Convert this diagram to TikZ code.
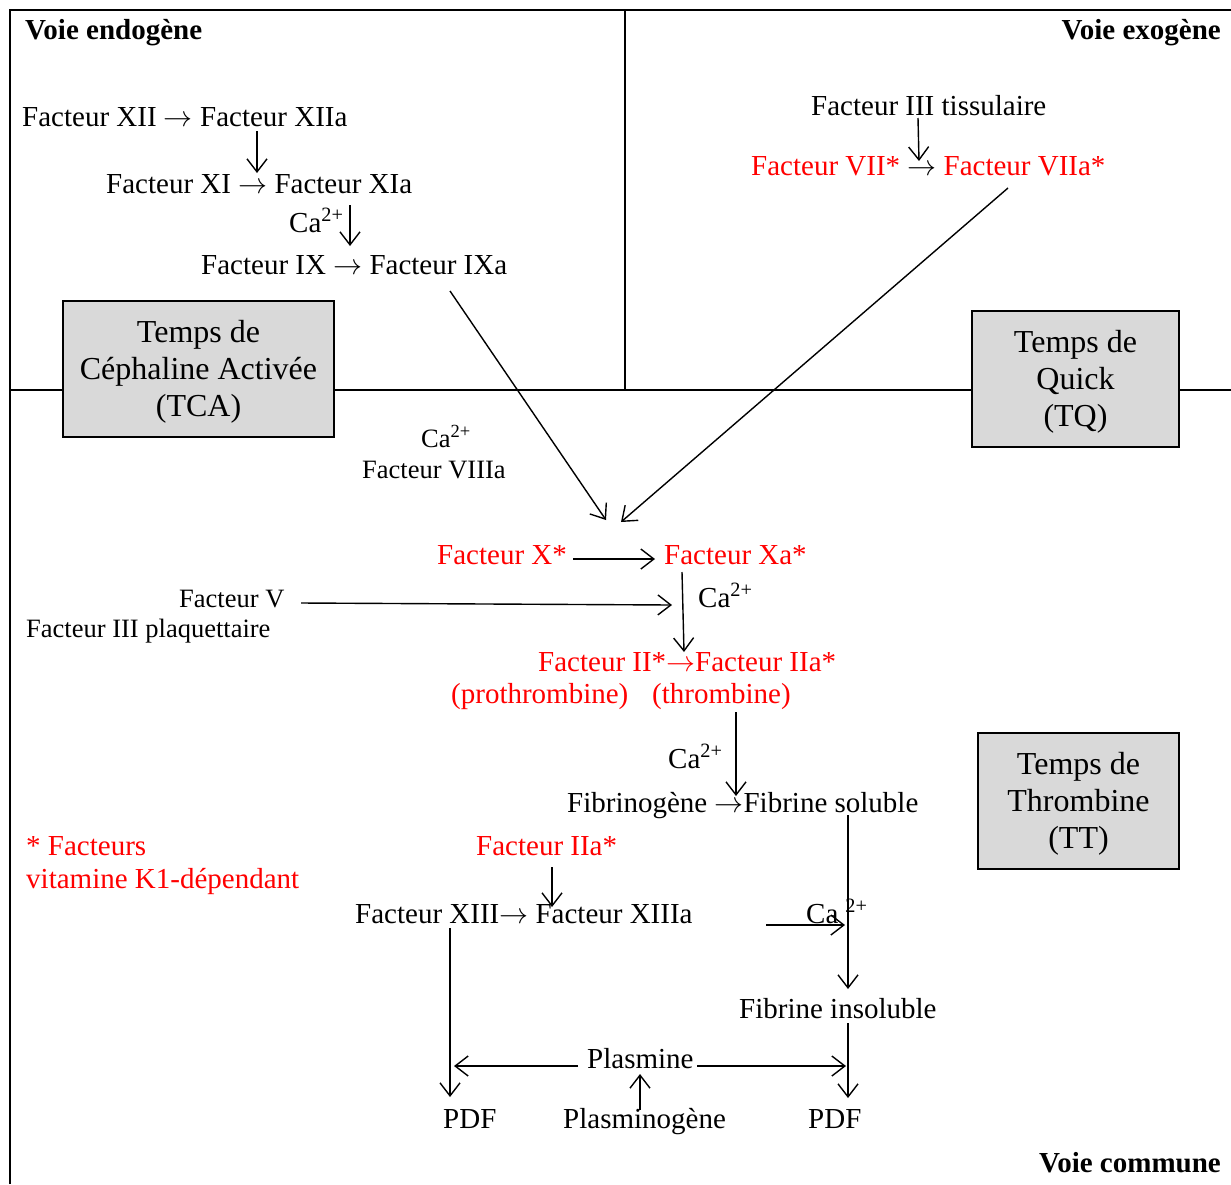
\RequirePackage{fix-cm}
\documentclass[tikz,border=0pt]{standalone}
\usepackage{fontspec}
\setmainfont{Liberation Serif}
\usetikzlibrary{arrows.meta}
\definecolor{boxgray}{HTML}{D9D9D9}
\definecolor{vkred}{HTML}{FF0000}
\newcommand\casup{Ca\textsuperscript{2+}}
\newcommand\rarr{$\rightarrow$}
\begin{document}
\begin{tikzpicture}[x=1pt,y=-1pt,
  txt/.style={anchor=base west, inner sep=0pt, font=\fontsize{29}{34}\selectfont},
  smalltxt/.style={anchor=base west, inner sep=0pt, font=\fontsize{26.5}{31}\selectfont},
  titletxt/.style={anchor=base west, inner sep=0pt, font=\fontsize{29}{34}\selectfont\bfseries},
  tbox/.style={draw, line width=2.2pt, fill=boxgray, inner sep=0pt},
  tboxtext/.style={align=center, inner sep=0pt, font=\fontsize{32}{37}\selectfont},
  frame/.style={line width=2pt},
  conn/.style={line width=1.4pt, -{Straight Barb[length=13pt,width=20pt]}}
]
\useasboundingbox (0,0) rectangle (1231,1184);
% frame
\draw[frame] (10,1184) -- (10,10) -- (1231,10);
\draw[frame] (625,10) -- (625,390);
\draw[frame] (10,390) -- (1231,390);

% titles
\node[titletxt] (tEndo) at (25,39) {Voie endogène};
\node[titletxt, anchor=base east] (tExo) at (1221,39) {Voie exogène};
\node[titletxt, anchor=base east] (tCom) at (1221,1172) {Voie commune};

% boxes
\node[tbox, minimum width=271pt, minimum height=136pt] (tca) at (198.5,369) {};
\node[tboxtext] (tcat) at ([yshift=-3pt]tca.center) {Temps de\\Céphaline Activée\\(TCA)};
\node[tbox, minimum width=207pt, minimum height=136pt] (tq) at (1075.5,379) {};
\node[tboxtext] (tqt) at ([yshift=-3pt]tq.center) {Temps de\\Quick\\(TQ)};
\node[tbox, minimum width=201pt, minimum height=136pt] (tt) at (1078.5,801) {};
\node[tboxtext] (ttt) at ([yshift=-3pt]tt.center) {Temps de\\Thrombine\\(TT)};

% texts
\node[txt] (f12) at (22,126) {Facteur XII \rarr\ Facteur XIIa};
\node[txt] (f11) at (106,193) {Facteur XI \rarr\ Facteur XIa};
\node[txt] (ca1) at (289,232) {\casup};
\node[txt] (f9) at (201,274) {Facteur IX \rarr\ Facteur IXa};
\node[txt] (f3t) at (811,115) {Facteur III tissulaire};
\node[txt] (f7) at (751,175) {\textcolor{vkred}{Facteur VII*} \rarr\ \textcolor{vkred}{Facteur VIIa*}};
\node[smalltxt] (ca2) at (421,447) {\casup};
\node[smalltxt] (f8) at (362,478) {Facteur VIIIa};
\node[txt, vkred] (f10) at (437,564) {Facteur X*};
\node[txt, vkred] (f10a) at (664,564) {Facteur Xa*};
\node[smalltxt] (f5) at (179,607) {Facteur V};
\node[smalltxt] (f3p) at (26,637) {Facteur III plaquettaire};
\node[txt] (ca3) at (698,607) {\casup};
\node[txt, vkred] (f2) at (538,671) {Facteur II*\rarr Facteur IIa*};
\node[txt, vkred] (proth) at (451,703) {(prothrombine)};
\node[txt, vkred] (thr) at (652,703) {(thrombine)};
\node[txt] (ca4) at (668,768) {\casup};
\node[txt] (fib) at (567,812) {Fibrinogène \rarr Fibrine soluble};
\node[txt, vkred] (vitk1) at (26,855) {* Facteurs};
\node[txt, vkred] (vitk2) at (26,888) {vitamine K1-dépendant};
\node[txt, vkred] (f2b) at (476,855) {Facteur IIa*};
\node[txt] (f13) at (355,923) {Facteur XIII\rarr\ Facteur XIIIa};
\node[txt] (ca5) at (806,923) {Ca\kern7pt\textsuperscript{2+}};
\node[txt] (fibi) at (739,1018) {Fibrine insoluble};
\node[txt] (plm) at (587,1068) {Plasmine};
\node[txt] (pdf1) at (443,1128) {PDF};
\node[txt] (plg) at (563,1128) {Plasminogène};
\node[txt] (pdf2) at (808,1128) {PDF};

% connector end points
\coordinate (a1s) at (257,131);  \coordinate (a1e) at (257,173);
\coordinate (a2s) at (350,205);  \coordinate (a2e) at (350,246);
\coordinate (a3s) at (450,291);  \coordinate (a3e) at (606,520);
\coordinate (a4s) at (918,118);  \coordinate (a4e) at (919,161);
\coordinate (a5s) at (1008,188); \coordinate (a5e) at (621,522);
\coordinate (a6s) at (573,559);  \coordinate (a6e) at (655,559);
\coordinate (a7s) at (301,603);  \coordinate (a7e) at (672,605);
\coordinate (a8s) at (682,572);  \coordinate (a8e) at (684,652);
\coordinate (a9s) at (736,712);  \coordinate (a9e) at (736,796);
\coordinate (a10s) at (848,815); \coordinate (a10e) at (848,989);
\coordinate (a11s) at (766,925); \coordinate (a11e) at (845,925);
\coordinate (a12s) at (552,867); \coordinate (a12e) at (552,907);
\coordinate (a13s) at (450,928); \coordinate (a13e) at (450,1097);
\coordinate (a14s) at (848,1023); \coordinate (a14e) at (848,1098);
\coordinate (a15s) at (578,1066); \coordinate (a15e) at (454,1066);
\coordinate (a16s) at (697,1066); \coordinate (a16e) at (846,1066);
\coordinate (a17s) at (640,1110); \coordinate (a17e) at (640,1074);

\foreach \i in {1,...,17} \draw[conn] (a\i s) -- (a\i e);
\end{tikzpicture}
\end{document}
